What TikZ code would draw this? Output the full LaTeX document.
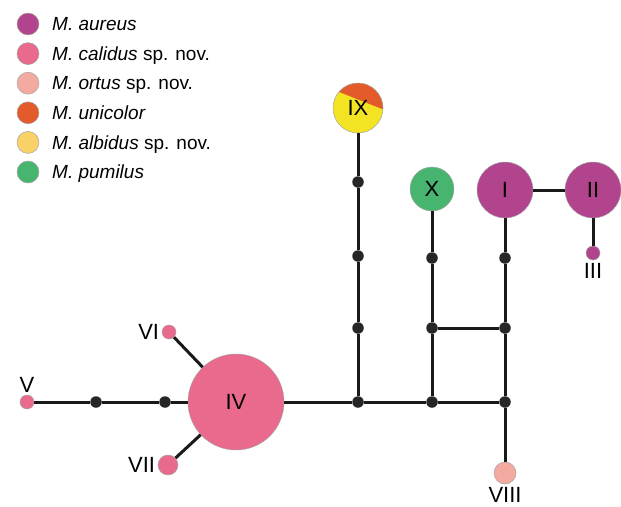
\documentclass[tikz,border=0pt]{standalone}
\usepackage{fontspec}
\setmainfont{Liberation Sans}
\definecolor{aureus}{HTML}{B2448E}
\definecolor{calidus}{HTML}{E96A8D}
\definecolor{ortus}{HTML}{F3AAA1}
\definecolor{unicolor}{HTML}{E35B2A}
\definecolor{albidus}{HTML}{F8D266}
\definecolor{albidusIX}{HTML}{F2E422}
\definecolor{pumilus}{HTML}{47B56F}
\begin{document}
\begin{tikzpicture}[x=1pt,y=-1pt,
  hap/.style={circle,draw=gray!70,line width=0.5pt,inner sep=0pt,font=\fontsize{22}{22}\selectfont},
  lbl/.style={inner sep=2.5pt,font=\fontsize{22}{22}\selectfont},
  dot/.style={circle,fill=black!85,inner sep=0pt,minimum size=11.5pt},
  link/.style={line width=3pt,black!90}]
  \useasboundingbox (0,0) rectangle (621,506);
  % legend
  \foreach \clr/\txt [count=\k from 0] in {aureus/{\textit{M. aureus}},
      calidus/{\textit{M. calidus} sp. nov.}, ortus/{\textit{M. ortus} sp. nov.},
      unicolor/{\textit{M. unicolor}}, albidus/{\textit{M. albidus} sp. nov.},
      pumilus/{\textit{M. pumilus}}}
  {
    \node[hap,fill=\clr,minimum size=22pt] (key\k) at (28,{24+29.6*\k}) {};
    \node[anchor=base west,inner sep=0pt,font=\fontsize{19}{19}\selectfont] (name\k) at (52,{30.6+29.6*\k}) {\txt};
  }
  % haplotypes
  \node[hap,fill=aureus,minimum size=56pt] (i) at (505,190) {I};
  \node[hap,fill=aureus,minimum size=56pt] (ii) at (593,190) {II};
  \node[hap,fill=aureus,minimum size=14pt,label={[lbl]below:III}] (iii) at (593,253) {};
  \node[hap,fill=calidus,minimum size=96pt] (iv) at (236,402) {IV};
  \node[hap,fill=calidus,minimum size=14pt,label={[lbl]above:V}] (v) at (27,402) {};
  \node[hap,fill=calidus,minimum size=14pt,label={[lbl]left:VI}] (vi) at (169,332) {};
  \node[hap,fill=calidus,minimum size=20pt,label={[lbl]left:VII}] (vii) at (168,465) {};
  \node[hap,fill=ortus,minimum size=22pt,label={[lbl]below:VIII}] (viii) at (505,473) {};
  \fill[albidusIX] (358,108) circle (25pt);
  \begin{scope}
    \clip (358,108) circle (25pt);
    \fill[unicolor] (330,88.4) -- (390,112.1) -- (390,70) -- (330,70) -- cycle;
  \end{scope}
  \node[hap,minimum size=50pt] (ix) at (358,108) {IX};
  \node[hap,fill=pumilus,minimum size=44pt] (x) at (432,189) {X};
  % median vectors
  \node[dot] (d1) at (96,402) {};
  \node[dot] (d2) at (165,402) {};
  \node[dot] (j1) at (358,402) {};
  \node[dot] (j2) at (432,402) {};
  \node[dot] (j3) at (505,402) {};
  \node[dot] (a1) at (358,182) {};
  \node[dot] (a2) at (358,256) {};
  \node[dot] (a3) at (358,328) {};
  \node[dot] (b1) at (432,258) {};
  \node[dot] (b2) at (432,328) {};
  \node[dot] (c1) at (505,258) {};
  \node[dot] (c2) at (505,328) {};
  % links
  \draw[link] (v) -- (d1) -- (d2) -- (iv) -- (j1) -- (j2) -- (j3);
  \draw[link] (ix) -- (a1) -- (a2) -- (a3) -- (j1);
  \draw[link] (x) -- (b1) -- (b2) -- (j2);
  \draw[link] (i) -- (c1) -- (c2) -- (j3) -- (viii);
  \draw[link] (b2) -- (c2);
  \draw[link] (i) -- (ii);
  \draw[link] (ii) -- (iii);
  \draw[link] (vi) -- (iv);
  \draw[link] (vii) -- (iv);
\end{tikzpicture}
\end{document}
